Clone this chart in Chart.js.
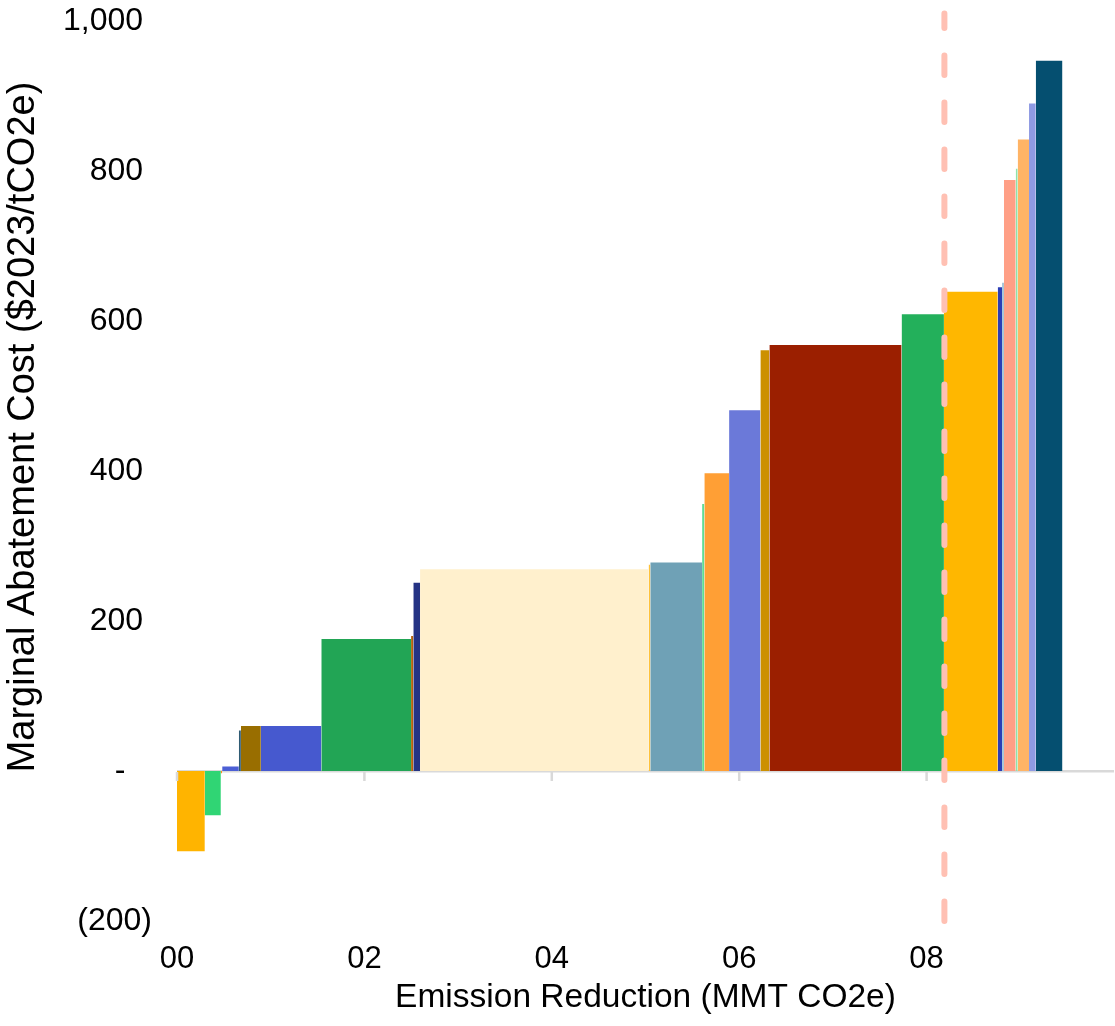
<!DOCTYPE html>
<html>
<head>
<meta charset="utf-8">
<script src="https://cdn.jsdelivr.net/npm/chart.js@4.4.1/dist/chart.umd.min.js"></script>
<style>
  html, body { margin: 0; padding: 0; background: #fff; }
  #wrap { position: relative; width: 1115px; height: 1026px; }
</style>
</head>
<body>
<div id="wrap"><canvas id="maccChart"></canvas></div>
<script>
// Emission reduction of each measure (MMT CO2e), in curve order
const reductions = [0.297, 0.171, 0.014, 0.178, 0.022, 0.213, 0.645, 0.958, 0.024, 0.072,
  2.439, 0.018, 0.553, 0.024, 0.264, 0.334, 0.096, 1.411, 0.452, 0.574,
  0.046, 0.021, 0.125, 0.021, 0.121, 0.072, 0.285];
// Marginal abatement cost of each measure ($2023/tCO2e)
const costs = [-107, -59, -3, 6, 54, 60, 60, 176, 180, 251,
  269, 275, 278, 356, 397, 481, 561, 568, 609, 639,
  645, 651, 788, 803, 842, 890, 947];
// Target reduction marker
const targetReduction = 8.19;
const yTicks = [-200, 0, 200, 400, 600, 800, 1000];
const xTicks = [0, 2, 4, 6, 8];

const palette = ['#ffb400', '#30d574', '#ff8a1f', '#4c5fd5', '#2f5b73', '#996e00', '#4659cf',
  '#22a555', '#b5620b', '#253384', '#fff0cd', '#ffc23a', '#6fa1b6', '#5fdc95', '#ff9f35',
  '#6b79d9', '#cc9000', '#9b1f00', '#23b05b', '#ffb700', '#2b3db5', '#a8c6d8', '#ff9f86',
  '#8fe3a9', '#ffb466', '#8f9ae3', '#054f70'];

const FONT = "'Liberation Sans', Arial, sans-serif";

// each measure is a flat line filled down to zero -> a bar as wide as its reduction
let start = 0;
const barSets = reductions.map(function(w, i) {
  const set = {
    type: 'line',
    data: [{ x: start, y: costs[i] }, { x: start + w, y: costs[i] }],
    backgroundColor: palette[i],
    borderColor: 'rgba(0,0,0,0)',
    borderWidth: 0,
    pointRadius: 0,
    fill: 'origin',
    order: 1
  };
  start += w;
  return set;
});

const targetSet = {
  type: 'line',
  data: [{ x: targetReduction, y: -200 }, { x: targetReduction, y: 1010 }],
  borderColor: '#ffc0b3',
  borderWidth: 6,
  borderDash: [19.5, 27.5],
  borderCapStyle: 'round',
  pointRadius: 0,
  fill: false,
  clip: false,
  order: 0
};

// small tick marks hanging under the zero line
const zeroTicks = {
  id: 'zeroTicks',
  afterDatasetsDraw(chart) {
    const ctx = chart.ctx;
    const x = chart.scales.x, y = chart.scales.y;
    const y0 = y.getPixelForValue(0);
    ctx.save();
    ctx.strokeStyle = '#d9d9d9';
    ctx.lineWidth = 2.5;
    xTicks.forEach(function(v) {
      const px = x.getPixelForValue(v);
      ctx.beginPath();
      ctx.moveTo(px, y0 + 1);
      ctx.lineTo(px, y0 + 10);
      ctx.stroke();
    });
    ctx.restore();
  }
};

// y title sits a bit above the middle of the plot in the original
const yTitle = {
  id: 'yTitle',
  afterDraw(chart) {
    const ctx = chart.ctx;
    ctx.save();
    ctx.translate(24, chart.chartArea.top + 406);
    ctx.rotate(-Math.PI / 2);
    ctx.font = '38px ' + FONT;
    ctx.fillStyle = '#000';
    ctx.textAlign = 'center';
    ctx.textBaseline = 'middle';
    ctx.fillText('Marginal Abatement Cost ($2023/tCO2e)', 0, 0);
    ctx.restore();
  }
};

function initializeChart() {
  const ctx = document.getElementById('maccChart').getContext('2d');
  new Chart(ctx, {
    type: 'line',
    data: { datasets: [targetSet].concat(barSets) },
    plugins: [zeroTicks, yTitle],
    options: {
      responsive: true,
      maintainAspectRatio: false,
      animation: false,
      layout: { padding: { top: 21, right: 1, left: 0, bottom: 0 } },
      plugins: {
        legend: { display: false },
        tooltip: { enabled: false }
      },
      scales: {
        x: {
          type: 'linear',
          min: 0,
          max: 10,
          afterFit: function(s) {
            s.height = 105;
            s.paddingLeft = 0;
            s.paddingRight = 0;
          },
          afterBuildTicks: function(s) { s.ticks = xTicks.concat([10]).map(v => ({ value: v })); },
          border: { display: false },
          grid: { display: false, drawTicks: false },
          ticks: {
            padding: 20,
            color: '#000',
            font: { family: FONT, size: 31 },
            maxRotation: 0,
            callback: v => (v < 10 ? '0' + v : '')
          },
          title: {
            display: true,
            text: 'Emission Reduction (MMT CO2e)',
            color: '#000',
            font: { family: FONT, size: 33.5 },
            padding: { top: 0, bottom: 8 }
          }
        },
        y: {
          min: -200,
          max: 1000,
          afterFit: function(s) {
            s.width = 177;
            s.paddingTop = 0;
            s.paddingBottom = 0;
          },
          afterBuildTicks: function(s) { s.ticks = yTicks.map(v => ({ value: v })); },
          border: { display: false },
          grid: {
            drawTicks: false,
            color: c => (c.tick && c.tick.value === 0 ? '#d9d9d9' : 'rgba(0,0,0,0)'),
            lineWidth: 2.5
          },
          ticks: {
            padding: 25,
            color: '#000',
            font: { family: FONT, size: 32 },
            callback: v => (v === 0 ? '-   ' : v < 0 ? '(' + Math.abs(v) + ')' : v.toLocaleString('en-US') + ' ')
          }
        }
      }
    }
  });
}

document.addEventListener('DOMContentLoaded', function() {
  initializeChart();
});
</script>
</body>
</html>
